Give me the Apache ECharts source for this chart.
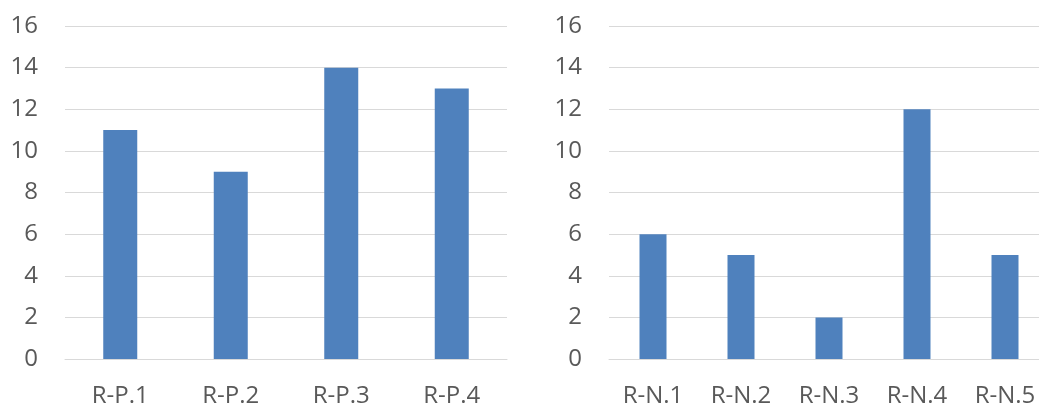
<!DOCTYPE html>
<html><head><meta charset="utf-8">
<script src="https://cdn.jsdelivr.net/npm/echarts@6/dist/echarts.min.js"></script>
<style>html,body{margin:0;padding:0;background:#fff}#c{width:1039px;height:405px}</style>
</head><body><div id="c"></div>
<script>
const leftCategories = ['R-P.1','R-P.2','R-P.3','R-P.4'];
const leftValues = [11, 9, 14, 13];
const rightCategories = ['R-N.1','R-N.2','R-N.3','R-N.4','R-N.5'];
const rightValues = [6, 5, 2, 12, 5];
const yMin = 0, yMax = 16, yInterval = 2;

const font = '"Open Sans", sans-serif';
const txt = '#595959';
function xAxis(idx, cats){
  return {type:'category', gridIndex:idx, data:cats,
    axisLine:{show:true, lineStyle:{color:'#D9D9D9', width:1}},
    axisTick:{show:false},
    axisLabel:{color:txt, fontFamily:font, fontSize:24, margin:25}};
}
function yAxis(idx){
  return {type:'value', gridIndex:idx, min:yMin, max:yMax, interval:yInterval,
    axisLine:{show:false}, axisTick:{show:false},
    splitLine:{lineStyle:{color:'#D9D9D9', width:1}},
    axisLabel:{color:txt, fontFamily:font, fontSize:24, margin:27}};
}
const chart = echarts.init(document.getElementById('c'), null, {renderer:'canvas'});
chart.setOption({
  animation:false,
  grid:[
    {left:65, top:26, width:442, height:333, containLabel:false, outerBoundsMode:'none'},
    {left:609, top:26, width:440, height:333, containLabel:false, outerBoundsMode:'none'}
  ],
  xAxis:[xAxis(0,leftCategories), xAxis(1,rightCategories)],
  yAxis:[yAxis(0), yAxis(1)],
  series:[
    {type:'bar', xAxisIndex:0, yAxisIndex:0, data:leftValues, barWidth:34, itemStyle:{color:'#4F81BD'}},
    {type:'bar', xAxisIndex:1, yAxisIndex:1, data:rightValues, barWidth:27, itemStyle:{color:'#4F81BD'}}
  ]
});
</script></body></html>
